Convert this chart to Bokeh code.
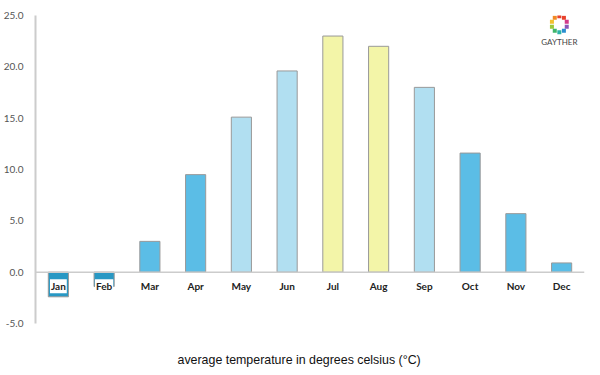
import numpy as np
from bokeh.plotting import figure
from bokeh.models import (ColumnDataSource, FactorRange, Range1d, Span, Label,
                          FixedTicker, NumeralTickFormatter, Title)
from bokeh.core.properties import value
from bokeh.embed import file_html
from bokeh.resources import INLINE

months = ["Jan", "Feb", "Mar", "Apr", "May", "Jun",
          "Jul", "Aug", "Sep", "Oct", "Nov", "Dec"]
temps = [-2.4, -1.4, 3.0, 9.5, 15.1, 19.6, 23.0, 22.0, 18.0, 11.6, 5.7, 0.9]
y_ticks = [-5, 0, 5, 10, 15, 20, 25]

DARK = "#2898c4"
MID = "#5bbde6"
LIGHT = "#b1dff1"
YELLOW = "#f3f5a8"
bar_colors = [DARK, DARK, MID, MID, LIGHT, LIGHT, YELLOW, YELLOW, LIGHT, MID, MID, MID]

src = ColumnDataSource(dict(month=months, temp=temps, color=bar_colors,
                            zero=[0] * len(months)))

p = figure(frame_width=549, frame_height=308,
           x_range=FactorRange(*months, range_padding=0),
           y_range=Range1d(-5, 25), output_backend="svg", toolbar_location=None,
           min_border_left=28, min_border_right=7, min_border_top=15,
           min_border_bottom=4)
p.outline_line_color = None
p.xgrid.visible = False
p.ygrid.visible = False
p.xaxis.visible = False

ya = p.yaxis[0]
ya.ticker = FixedTicker(ticks=y_ticks)
ya.formatter = NumeralTickFormatter(format="0.0")
ya.axis_line_color = "#cccccc"
ya.axis_line_width = 2
ya.major_tick_line_color = None
ya.minor_tick_line_color = None
ya.major_label_text_color = "#555555"
ya.major_label_text_font = "Lato"
ya.major_label_text_font_size = "10px"
ya.major_label_standoff = 6

p.vbar(x="month", top="temp", bottom=0, width=0.44, source=src,
       fill_color="color", line_color="#999999", line_width=1)

p.add_layout(Span(location=0, dimension="width", line_color="#cccccc", line_width=1.5))

p.text(x="month", y="zero", text="month", source=src, text_align="center",
       text_baseline="top", y_offset=7, text_font=value("Lato"),
       text_font_style="bold", text_font_size="10px", text_color="#222222",
       background_fill_color="white", padding=1)

# spacer so the caption sits lower
p.add_layout(Title(text=" ", text_font_size="9px"), "below")
p.add_layout(Title(text="average temperature in degrees celsius (°C)",
                   align="left", offset=142, text_font="Liberation Sans",
                   text_font_size="12.4px", text_font_style="normal",
                   text_color="#111111"), "below")

# logo
ring_colors = ["#e8412c", "#f08a24", "#f2c12e", "#9cc93a", "#3fb56b",
               "#2bb3a6", "#2a8fd0", "#8a56b8", "#d13a8a", "#e8412c"]
ang = np.linspace(0, 2 * np.pi, 10, endpoint=False) + np.pi / 2
p.scatter(x=11.45 + 0.17 * np.cos(ang), y=24.15 + 0.78 * np.sin(ang),
          marker="square", size=4, color=ring_colors, line_color=None)
p.add_layout(Label(x=11.45, y=22.4, text="GAYTHER", text_align="center",
                   text_baseline="middle", text_font="Lato",
                   text_font_size="8px", text_color="#444444"))

open("out.html", "w").write(file_html(p, INLINE))
